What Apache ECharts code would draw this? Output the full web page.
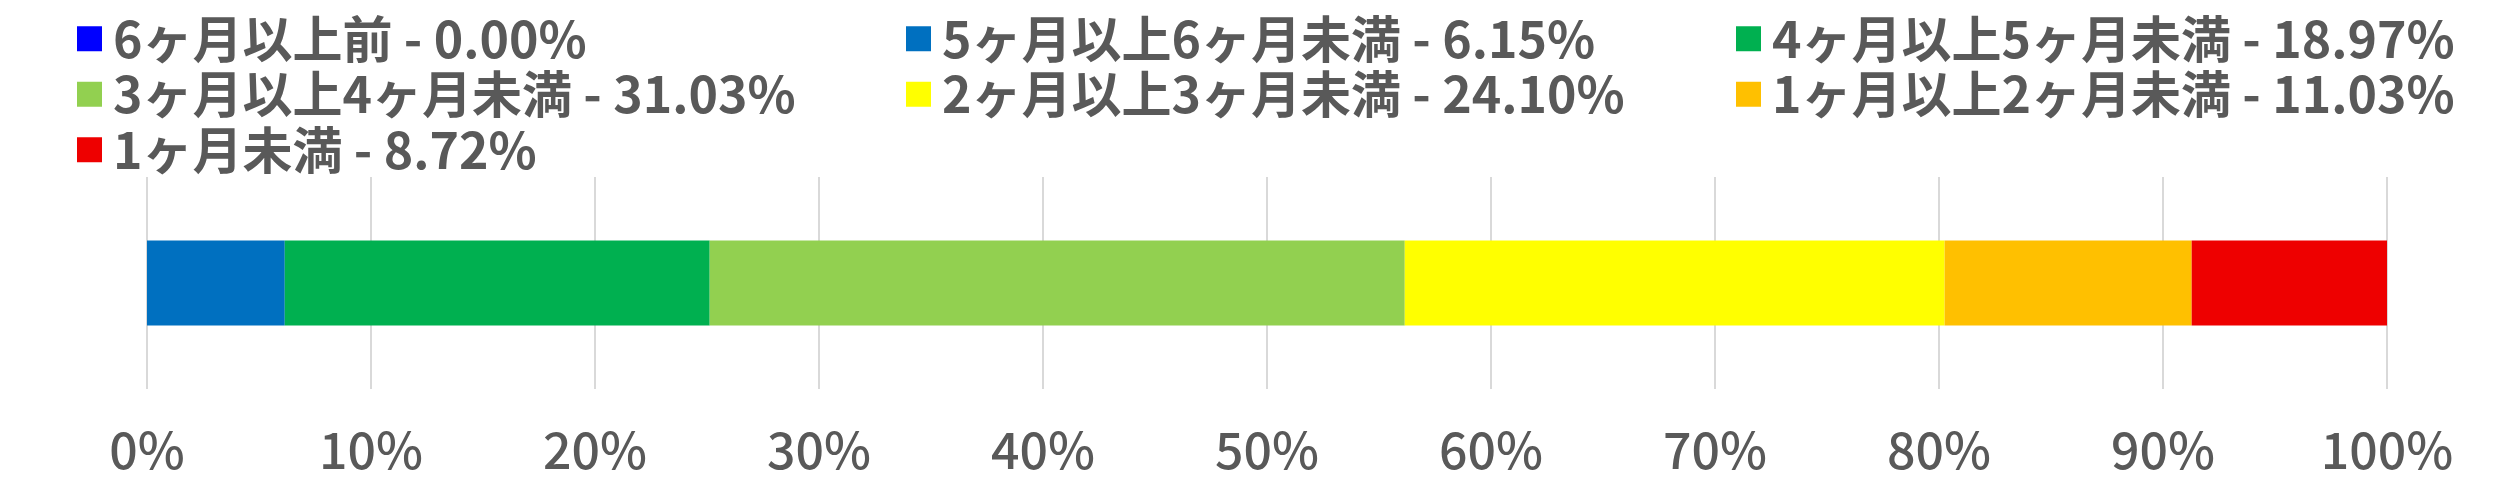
<!DOCTYPE html>
<html>
<head>
<meta charset="utf-8">
<script src="https://cdn.jsdelivr.net/npm/echarts@6/dist/echarts.min.js"></script>
<style>
html,body{margin:0;padding:0;background:#fff;}
#chart{width:2518px;height:493px;}
</style>
</head>
<body>
<div id="chart"></div>
<script>
const categories = ['全体'];
const seriesNames = ['6ヶ月以上前','5ヶ月以上6ヶ月未満','4ヶ月以上5ヶ月未満','3ヶ月以上4ヶ月未満','2ヶ月以上3ヶ月未満','1ヶ月以上2ヶ月未満','1ヶ月未満'];
const seriesValues = [0.00, 6.15, 18.97, 31.03, 24.10, 11.03, 8.72];
const seriesColors = ['#0000FF','#0070C0','#00B050','#92D050','#FFFF00','#FFC000','#EE0000'];
const tickLabels = ['0%','10%','20%','30%','40%','50%','60%','70%','80%','90%','100%'];
const legendColumns = [
  ['6ヶ月以上前','3ヶ月以上4ヶ月未満','1ヶ月未満'],
  ['5ヶ月以上6ヶ月未満','2ヶ月以上3ヶ月未満'],
  ['4ヶ月以上5ヶ月未満','1ヶ月以上2ヶ月未満']
];
const legendLefts = [77, 906, 1736];

const valueOf = {};
seriesNames.forEach((n,i)=>{ valueOf[n] = seriesValues[i]; });

const chart = echarts.init(document.getElementById('chart'), null, {renderer:'canvas'});
const textColor = '#595959';
const fontFam = '"Noto Sans CJK JP", "Noto Sans", sans-serif';

const legends = legendColumns.map((col, ci) => ({
  data: col,
  orient: 'vertical',
  left: legendLefts[ci],
  top: 11,
  itemWidth: 25,
  itemHeight: 25,
  itemGap: 0,
  icon: 'rect',
  selectedMode: false,
  padding: 0,
  formatter: name => name + ' - ' + valueOf[name].toFixed(2) + '%',
  textStyle: {
    color: textColor,
    fontFamily: fontFam,
    fontSize: 50,
    fontWeight: 'bold',
    lineHeight: 55.5,
    padding: [0, 0, 0, 6]
  }
}));

chart.setOption({
  animation: false,
  backgroundColor: '#fff',
  legend: legends,
  grid: { left: 147, right: 131, top: 177, bottom: 104, containLabel: false },
  xAxis: {
    type: 'value',
    min: 0, max: 100, interval: 10,
    axisLine: { show: false },
    axisTick: { show: false },
    splitLine: { show: true, lineStyle: { color: '#D9D9D9', width: 2 } },
    axisLabel: {
      margin: 36,
      color: textColor,
      fontFamily: fontFam,
      fontSize: 50,
      fontWeight: 500,
      formatter: (v) => tickLabels[Math.round(v/10)]
    }
  },
  yAxis: {
    type: 'category',
    data: categories,
    axisLine: { show: false },
    axisTick: { show: false },
    axisLabel: { show: false }
  },
  series: seriesNames.map((n,i)=>({
    name: n,
    type: 'bar',
    stack: 'total',
    barWidth: 85,
    itemStyle: { color: seriesColors[i] },
    data: [seriesValues[i]]
  }))
});
</script>
</body>
</html>
